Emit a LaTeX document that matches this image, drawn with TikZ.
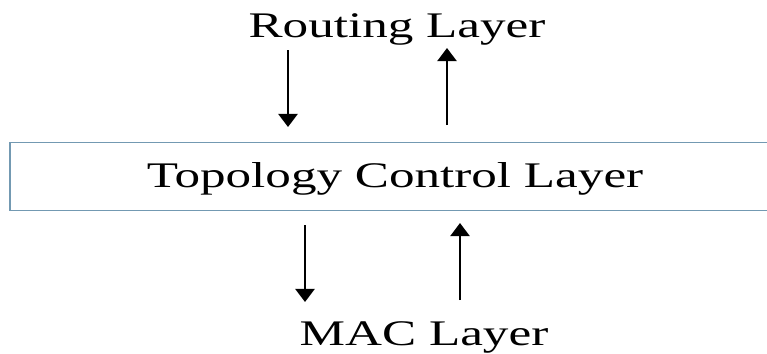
\documentclass[tikz,border=0pt]{standalone}
\usepackage{fontspec}
\setmainfont{Liberation Serif}
\usetikzlibrary{arrows.meta}
\definecolor{boxline}{rgb}{0.45,0.6,0.7}
\tikzstyle{layer} = [inner sep = 0pt, anchor = base, font = \fontsize{20.5}{24}\selectfont]
\tikzstyle{flow} = [line width = 1.1pt, -{Triangle[length = 7.5pt, width = 11pt]}]

\begin{document}
\begin{tikzpicture}[x = 0.02cm, y = -0.02cm]
        \useasboundingbox (0, 0) rectangle (767, 353);
        \node (routing) at (397, 37) [layer, xscale = 1.42] {Routing Layer};
        \node (tc) at (395, 176.5) [inner sep = 0pt, font = \fontsize{20.5}{24}\selectfont, text height = 14pt, text depth = 2pt, draw = boxline, thick, minimum width = 15.4cm, minimum height = 1.36cm] {\scalebox{1.42}[1]{Topology Control Layer}};
        \node (mac) at (424, 345) [layer, xscale = 1.42] {MAC Layer};
        \coordinate (r1) at (288, 50);
        \coordinate (r2) at (288, 127);
        \coordinate (r3) at (447, 125);
        \coordinate (r4) at (447, 48);
        \coordinate (m1) at (305, 225);
        \coordinate (m2) at (305, 302);
        \coordinate (m3) at (460, 300);
        \coordinate (m4) at (460, 223);
        \draw [flow] (r1) -- (r2);
        \draw [flow] (r3) -- (r4);
        \draw [flow] (m1) -- (m2);
        \draw [flow] (m3) -- (m4);
    \end{tikzpicture}
\end{document}
